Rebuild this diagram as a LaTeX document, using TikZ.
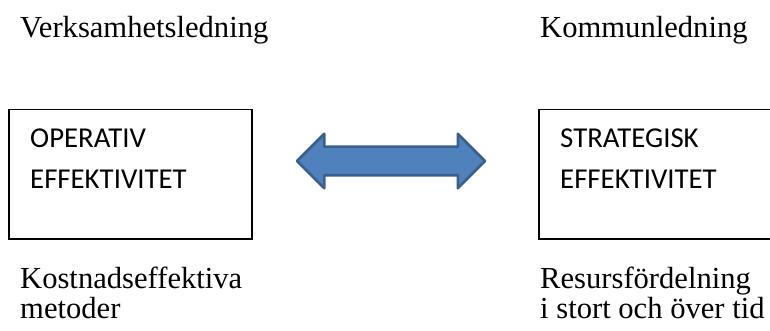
\documentclass[tikz,border=0pt]{standalone}
\usepackage{fontspec}
\setmainfont{Liberation Serif}
\newfontfamily\boxfont{Carlito}
\usetikzlibrary{shapes.arrows}
\definecolor{arrowfill}{HTML}{4F81BD}
\definecolor{arrowline}{HTML}{3A5F8E}
\tikzset{
  heading/.style={anchor=base west, inner sep=0pt, align=left, font=\fontsize{30.6}{30}\selectfont},
  boxtext/.style={anchor=base west, inner sep=0pt, align=left, font=\boxfont\fontsize{28.8}{40}\selectfont},
  effbox/.style={draw, line width=1.5pt, anchor=north west, minimum height=129pt, inner sep=0pt},
}
\begin{document}
\begin{tikzpicture}[x=1pt, y=-1pt]
\useasboundingbox (0,0) rectangle (770,331);
% ledning
\node [heading] (verk) at (20,38) {Verksamhetsledning};
\node [heading] (komm) at (540,38) {Kommunledning};
% boxes
\node [effbox, minimum width=243pt] (opbox) at (8,109) {};
\node [effbox, minimum width=260pt] (stbox) at (538,109) {};
\node [boxtext] (optext) at (30,188) {OPERATIV\\EFFEKTIVITET};
\node [boxtext] (sttext) at (560,188) {STRATEGISK\\EFFEKTIVITET};
% arrow
\node [double arrow, draw=arrowline, fill=arrowfill, line width=2.5pt, line join=round,
  minimum height=188pt, inner xsep=0pt, inner ysep=13pt, text height=0pt, text depth=0pt,
  double arrow head extend=13pt] (link) at (391,161) {};
% below
\node [heading] (kost) at (20,318) {Kostnadseffektiva\\metoder};
\node [heading] (resu) at (540,318) {Resursfördelning\\i stort och över tid};
\end{tikzpicture}
\end{document}
